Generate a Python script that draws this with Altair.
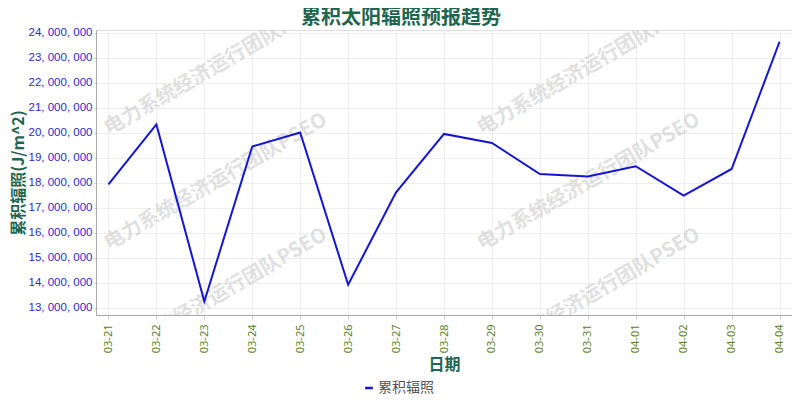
import altair as alt
import pandas as pd

dates = ["03-21", "03-22", "03-23", "03-24", "03-25", "03-26", "03-27", "03-28",
         "03-29", "03-30", "03-31", "04-01", "04-02", "04-03", "04-04"]
values = [17940000, 20330000, 13260000, 19450000, 20010000, 13930000, 17620000, 19950000,
          19590000, 18350000, 18250000, 18660000, 17490000, 18550000, 23630000]
series_name = "累积辐照"
y_ticks = [13000000, 14000000, 15000000, 16000000, 17000000, 18000000,
           19000000, 20000000, 21000000, 22000000, 23000000, 24000000]

df = pd.DataFrame({"日期": dates, "值": values, "系列": [series_name] * len(dates)})

FONT = "Noto Sans CJK SC"
GREEN = "#1f6650"

line = alt.Chart(df).mark_line(strokeWidth=2).encode(
    x=alt.X("日期:O", sort=dates,
            scale=alt.Scale(type="point", padding=0.26),
            axis=alt.Axis(title="日期", labelAngle=-90, labelColor="#5b7f2b",
                          labelFontSize=11, labelFont="Noto Sans", labelPadding=5,
                          tickSize=4, tickColor="#cccccc", domainColor="#aaaaaa",
                          grid=True, gridColor="#eeeeee",
                          titleFontSize=16, titleFontWeight="bold", titleColor=GREEN,
                          titleFont=FONT, titlePadding=4)),
    y=alt.Y("值:Q", scale=alt.Scale(domain=[12720000, 24100000], nice=False, zero=False),
            axis=alt.Axis(title="累积辐照(J/m^2)", values=y_ticks,
                          labelExpr="replace(format(datum.value, ','), /,/g, ', ')",
                          labelColor="#2a2acc", labelFontSize=11.5, labelFont="Liberation Sans",
                          labelPadding=2, tickSize=2, tickColor="#cccccc",
                          domainColor="#aaaaaa", gridColor="#eeeeee",
                          titleFontSize=16, titleFontWeight="bold", titleColor=GREEN,
                          titleFont=FONT, titlePadding=2)),
    color=alt.Color("系列:N", scale=alt.Scale(range=["#1414d4"]),
                    legend=alt.Legend(title=None, orient="none", legendX=266, legendY=351,
                                      symbolType="stroke", symbolStrokeWidth=2.5,
                                      symbolSize=60, labelFontSize=14, labelColor="#555555",
                                      labelFont=FONT, labelOffset=2)),
)

wm_text = "电力系统经济运行团队PSEO"
wm_layers = []
for wx in [10, 383]:
    for wy in [100, 215, 330]:
        wm_layers.append(
            alt.Chart(df.head(1)).mark_text(
                text=wm_text, angle=330, align="left", baseline="middle",
                font=FONT, fontSize=20, fontWeight="bold",
                color="#c8c8c8", opacity=0.55, clip=True,
            ).encode(x=alt.value(wx), y=alt.value(wy))
        )

chart = alt.layer(*wm_layers, line).properties(
    width=696, height=285,
    padding={"left": 88, "top": 22, "right": 0, "bottom": 85},
    autosize=alt.AutoSizeParams(type="none"),
    title=alt.TitleParams("累积太阳辐照预报趋势", anchor="middle", frame="bounds",
                          fontSize=20, fontWeight="bold", color=GREEN, font=FONT,
                          offset=-1),
).configure_view(stroke="#aaaaaa", strokeWidth=1.2).configure(background="white")

chart.save("out.html", embed_options={"renderer": "svg", "actions": False})
